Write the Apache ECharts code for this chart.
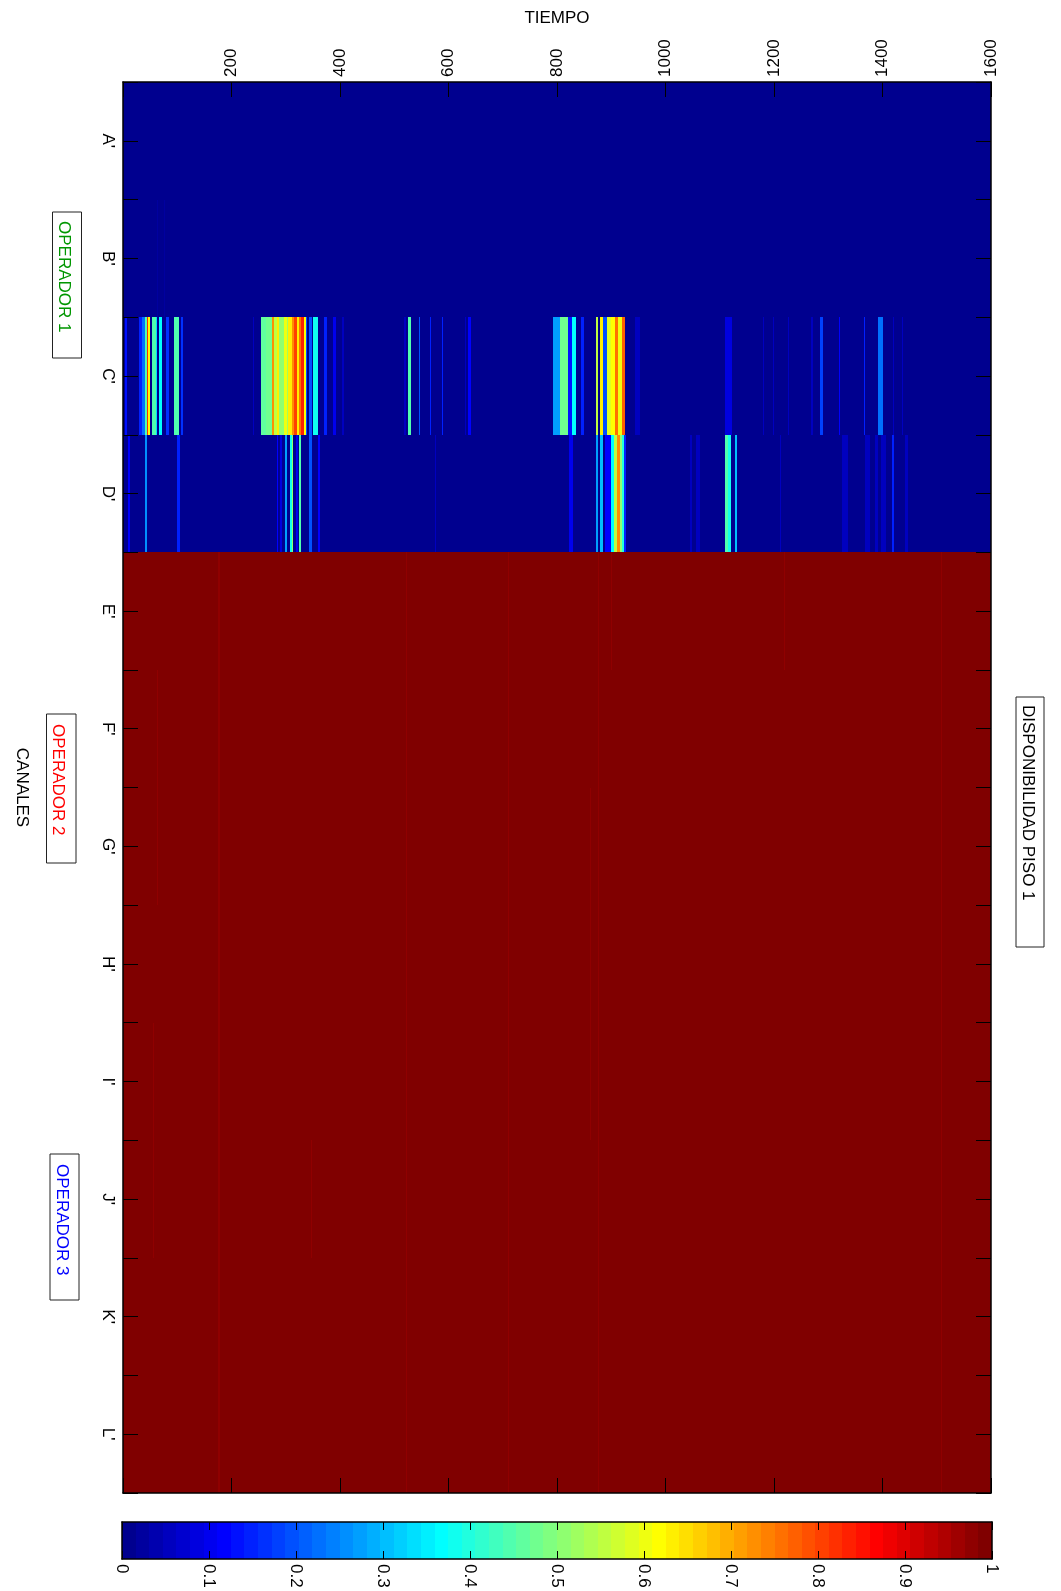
<!DOCTYPE html>
<html>
<head>
<meta charset="utf-8">
<style>
  html, body { margin: 0; padding: 0; background: #fff; }
  #chart { width: 1061px; height: 1591px; }
</style>
<script src="https://cdn.jsdelivr.net/npm/echarts/dist/echarts.min.js"></script>
</head>
<body>
<div id="chart"></div>
<script>
// ---------------- DATA ----------------
const channels = ["A'", "B'", "C'", "D'", "E'", "F'", "G'", "H'", "I'", "J'", "K'", "L'"];
const timeTickLabels = [200, 400, 600, 800, 1000, 1200, 1400, 1600];
const colorbarTickLabels = [0, 0.1, 0.2, 0.3, 0.4, 0.5, 0.6, 0.7, 0.8, 0.9, 1];

// base availability of each channel over the whole time range
const channelBase = [0.005, 0.005, 0.005, 0.005, 0.995, 0.995, 0.995, 0.995, 0.995, 0.995, 0.995, 0.995];

// events: [tStart, tEnd, value]
const eventsB = [[62, 64, 0.03], [75, 77, 0.03]];

const eventsC = [
  [4, 7, 0.14], [30, 35, 0.15], [35, 40, 0.22], [40, 44, 0.45], [44, 47, 0.82], [47, 50, 0.62],
  [53, 61, 0.45], [61, 63, 0.33], [67, 72, 0.36], [80, 85, 0.16], [94, 104, 0.44], [107, 111, 0.17],
  [240, 242, 0.05],
  [255, 264, 0.46], [264, 274, 0.48], [274, 278, 0.72], [278, 283, 0.56], [283, 288, 0.63], [288, 296, 0.5],
  [296, 302, 0.6], [302, 305, 0.52], [305, 311, 0.64], [311, 315, 0.73], [315, 320, 0.8], [320, 324, 0.63],
  [324, 329, 0.76], [329, 334, 0.83], [334, 337, 0.62], [337, 340, 0.2], [342, 348, 0.2], [350, 360, 0.38],
  [370, 376, 0.15], [388, 392, 0.1], [403, 407, 0.06],
  [518, 521, 0.06], [526, 531, 0.45], [546, 548, 0.2], [566, 568, 0.15], [588, 590, 0.15], [630, 632, 0.06], [636, 642, 0.12],
  [793, 805, 0.27], [805, 821, 0.47], [821, 827, 0.13], [827, 835, 0.37], [845, 850, 0.15], [872, 876, 0.55],
  [879, 884, 0.64], [885, 893, 0.2], [893, 900, 0.58], [900, 907, 0.62], [907, 913, 0.75], [913, 919, 0.6],
  [919, 925, 0.78], [944, 953, 0.06],
  [1110, 1122, 0.08], [1180, 1182, 0.05], [1198, 1200, 0.06], [1226, 1228, 0.05], [1269, 1271, 0.06],
  [1284, 1290, 0.18], [1319, 1321, 0.12], [1365, 1367, 0.15], [1392, 1401, 0.22], [1420, 1422, 0.06], [1436, 1438, 0.06]
];

const eventsD = [
  [9, 12, 0.12], [40, 45, 0.25], [100, 105, 0.15],
  [283, 286, 0.12], [290, 294, 0.08], [298, 302, 0.28], [307, 311, 0.38], [311, 314, 0.5], [318, 322, 0.1],
  [325, 329, 0.45], [343, 348, 0.2], [360, 363, 0.12],
  [575, 577, 0.05],
  [823, 830, 0.1], [872, 876, 0.27], [879, 885, 0.3], [888, 900, 0.12], [900, 905, 0.37], [905, 910, 0.55],
  [910, 916, 0.72], [916, 919, 0.5], [919, 923, 0.4], [923, 928, 0.15],
  [1045, 1048, 0.05], [1057, 1063, 0.06], [1110, 1116, 0.45], [1116, 1120, 0.38], [1128, 1131, 0.3],
  [1211, 1213, 0.05], [1325, 1336, 0.05], [1368, 1377, 0.06], [1386, 1392, 0.05], [1398, 1407, 0.06],
  [1417, 1421, 0.15], [1441, 1447, 0.05]
];

// events spanning several channels: [fromChannel, toChannel, tStart, tEnd, value]
const eventsOperators23 = [
  ["E'", "L'", 176, 178, 0.975], ["E'", "L'", 522, 524, 0.975], ["E'", "L'", 709, 711, 0.975],
  ["E'", "L'", 875, 877, 0.975], ["E'", "L'", 1508, 1510, 0.975],
  ["F'", "G'", 62, 64, 0.98], ["I'", "J'", 55, 57, 0.98], ["J'", "J'", 347, 349, 0.98],
  ["E'", "E'", 899, 901, 0.98], ["E'", "E'", 1219, 1221, 0.98], ["G'", "I'", 860, 862, 0.98]
];

// ---------------- BUILD ----------------
const FONT = "'Liberation Sans', Arial, Helvetica, sans-serif";

function jetColormap(m) {
  const n = Math.ceil(m / 4);
  const u = [];
  for (let i = 1; i <= n; i++) u.push(i / n);
  for (let i = 0; i < n - 1; i++) u.push(1);
  for (let i = n; i >= 1; i--) u.push(i / n);
  const g0 = Math.ceil(n / 2) - (m % 4 === 1 ? 1 : 0);
  const cols = Array.from({ length: m }, () => [0, 0, 0]);
  for (let j = 0; j < u.length; j++) {
    const g = g0 + j + 1, r = g + n, b = g - n;
    if (g >= 1 && g <= m) cols[g - 1][1] = u[j];
    if (r >= 1 && r <= m) cols[r - 1][0] = u[j];
    if (b >= 1 && b <= m) cols[b - 1][2] = u[j];
  }
  return cols.map(c => `rgb(${Math.round(c[0] * 255)},${Math.round(c[1] * 255)},${Math.round(c[2] * 255)})`);
}
const JET = jetColormap(64);

const rowOf = name => channels.indexOf(name) + 1;
const cells = [];
channelBase.forEach((v, i) => cells.push([0, 1600, i + 1, i + 1, v]));
eventsB.forEach(e => cells.push([e[0], e[1], rowOf("B'"), rowOf("B'"), e[2]]));
eventsC.forEach(e => cells.push([e[0], e[1], rowOf("C'"), rowOf("C'"), e[2]]));
eventsD.forEach(e => cells.push([e[0], e[1], rowOf("D'"), rowOf("D'"), e[2]]));
eventsOperators23.forEach(e => cells.push([e[2], e[3], rowOf(e[0]), rowOf(e[1]), e[4]]));

const colorbarLevels = JET.map((c, i) => [i / 64, (i + 1) / 64, i]);

const pieces = JET.map((c, i) => i < 63 ? { gte: i / 64, lt: (i + 1) / 64, color: c } : { gte: i / 64, lte: 1, color: c });

const axisLineStyle = { show: true, onZero: false, lineStyle: { color: '#000', width: 1.5 } };
const tickStyle = len => ({ show: true, inside: true, length: len, lineStyle: { color: '#000', width: 1 } });
const labelBase = { color: '#000', fontSize: 17, fontFamily: FONT };

// pixel-snapped rectangle between two data-space corners
function snappedRect(p0, p1) {
  let x0 = Math.round(Math.min(p0[0], p1[0])), x1 = Math.round(Math.max(p0[0], p1[0]));
  let y0 = Math.round(Math.min(p0[1], p1[1])), y1 = Math.round(Math.max(p0[1], p1[1]));
  if (x1 <= x0) x1 = x0 + 1;
  if (y1 <= y0) y1 = y0 + 1;
  return { x: x0, y: y0, width: x1 - x0, height: y1 - y0 };
}

const chart = echarts.init(document.getElementById('chart'), null, { renderer: 'canvas' });

const option = {
  animation: false,
  backgroundColor: '#fff',
  grid: [
    { left: 123, top: 82, width: 868, height: 1411, containLabel: false, outerBoundsMode: 'none' },
    { left: 122, top: 1522, width: 870, height: 37, containLabel: false, outerBoundsMode: 'none' }
  ],
  xAxis: [
    { gridIndex: 0, type: 'value', min: 0, max: 1600, interval: 200, position: 'top', z: 5,
      axisLine: axisLineStyle, axisTick: tickStyle(15), splitLine: { show: false },
      axisLabel: Object.assign({}, labelBase, { rotate: -90, margin: 5,
        formatter: v => timeTickLabels.indexOf(v) >= 0 ? String(v) : '' }) },
    { gridIndex: 0, type: 'value', min: 0, max: 1600, interval: 200, position: 'bottom', z: 5,
      axisLine: axisLineStyle, axisTick: tickStyle(15), splitLine: { show: false }, axisLabel: { show: false } },
    { gridIndex: 1, type: 'value', min: 0, max: 1, interval: 0.1, position: 'bottom', z: 5,
      axisLine: axisLineStyle, axisTick: tickStyle(8), splitLine: { show: false },
      axisLabel: Object.assign({}, labelBase, { rotate: -90, margin: 5,
        formatter: v => {
          const r = Math.round(v * 10) / 10;
          return colorbarTickLabels.indexOf(r) >= 0 ? String(r) : '';
        } }) },
    { gridIndex: 1, type: 'value', min: 0, max: 1, interval: 0.1, position: 'top', z: 5,
      axisLine: axisLineStyle, axisTick: tickStyle(8), splitLine: { show: false }, axisLabel: { show: false } }
  ],
  yAxis: [
    { gridIndex: 0, type: 'value', min: 0.5, max: 12.5, interval: 0.5, inverse: true, position: 'left', z: 5,
      axisLine: axisLineStyle, axisTick: tickStyle(15), splitLine: { show: false },
      axisLabel: Object.assign({}, labelBase, { rotate: -90, margin: 7,
        formatter: v => Number.isInteger(v) ? channels[v - 1] : '' }) },
    { gridIndex: 0, type: 'value', min: 0.5, max: 12.5, interval: 0.5, inverse: true, position: 'right', z: 5,
      axisLine: axisLineStyle, axisTick: tickStyle(15), splitLine: { show: false }, axisLabel: { show: false } },
    { gridIndex: 1, type: 'value', min: 0, max: 1, position: 'left', z: 5,
      axisLine: axisLineStyle, axisTick: { show: false }, splitLine: { show: false }, axisLabel: { show: false } },
    { gridIndex: 1, type: 'value', min: 0, max: 1, position: 'right', z: 5,
      axisLine: axisLineStyle, axisTick: { show: false }, splitLine: { show: false }, axisLabel: { show: false } }
  ],
  visualMap: [{
    type: 'piecewise', show: false, dimension: 4, seriesIndex: 0, pieces: pieces
  }],
  series: [
    {
      type: 'custom', name: 'disponibilidad', xAxisIndex: 0, yAxisIndex: 0, z: 1, clip: true,
      encode: { x: [0, 1], y: [2, 3] },
      data: cells,
      renderItem: function (params, api) {
        const p0 = api.coord([api.value(0), api.value(2) - 0.5]);
        const p1 = api.coord([api.value(1), api.value(3) + 0.5]);
        return {
          type: 'rect',
          shape: snappedRect(p0, p1),
          style: { fill: api.visual('color'), stroke: null }
        };
      }
    },
    {
      type: 'custom', name: 'colorbar', xAxisIndex: 2, yAxisIndex: 2, z: 1,
      encode: { x: [0, 1] },
      data: colorbarLevels,
      renderItem: function (params, api) {
        const p0 = api.coord([api.value(0), 1]);
        const p1 = api.coord([api.value(1), 0]);
        return {
          type: 'rect',
          shape: snappedRect(p0, p1),
          style: { fill: JET[api.value(2)], stroke: null }
        };
      }
    }
  ],
  graphic: [
    { type: 'text', x: 557, y: 18, z: 10,
      style: { text: 'TIEMPO', fontSize: 17, fontFamily: FONT, fill: '#000', align: 'center', verticalAlign: 'middle', textAlign: 'center', textVerticalAlign: 'middle' } },
    { type: 'text', x: 22, y: 787.5, rotation: -Math.PI / 2, z: 10,
      style: { text: 'CANALES', fontSize: 17, fontFamily: FONT, fill: '#000', align: 'center', verticalAlign: 'middle', textAlign: 'center', textVerticalAlign: 'middle' } },
    // title box
    { type: 'rect', z: 9, shape: { x: 1016, y: 697, width: 28, height: 250 }, style: { fill: '#fff', stroke: '#222', lineWidth: 1 } },
    { type: 'text', x: 1028, y: 705, rotation: -Math.PI / 2, z: 10,
      style: { text: 'DISPONIBILIDAD PISO 1', fontSize: 17, fontFamily: FONT, fill: '#000', align: 'left', verticalAlign: 'middle', textAlign: 'left', textVerticalAlign: 'middle' } },
    // operator boxes
    { type: 'rect', z: 9, shape: { x: 52.5, y: 212, width: 29, height: 146 }, style: { fill: '#fff', stroke: '#222', lineWidth: 1 } },
    { type: 'text', x: 64, y: 221, rotation: -Math.PI / 2, z: 10,
      style: { text: 'OPERADOR 1', fontSize: 17, fontFamily: FONT, fill: 'rgb(0,150,0)', align: 'left', verticalAlign: 'middle', textAlign: 'left', textVerticalAlign: 'middle' } },
    { type: 'rect', z: 9, shape: { x: 46.5, y: 714, width: 29.5, height: 149 }, style: { fill: '#fff', stroke: '#222', lineWidth: 1 } },
    { type: 'text', x: 58, y: 724, rotation: -Math.PI / 2, z: 10,
      style: { text: 'OPERADOR 2', fontSize: 17, fontFamily: FONT, fill: 'rgb(255,0,0)', align: 'left', verticalAlign: 'middle', textAlign: 'left', textVerticalAlign: 'middle' } },
    { type: 'rect', z: 9, shape: { x: 50, y: 1154, width: 29, height: 146 }, style: { fill: '#fff', stroke: '#222', lineWidth: 1 } },
    { type: 'text', x: 61.5, y: 1164, rotation: -Math.PI / 2, z: 10,
      style: { text: 'OPERADOR 3', fontSize: 17, fontFamily: FONT, fill: 'rgb(0,0,255)', align: 'left', verticalAlign: 'middle', textAlign: 'left', textVerticalAlign: 'middle' } }
  ]
};

chart.setOption(option);
</script>
</body>
</html>
